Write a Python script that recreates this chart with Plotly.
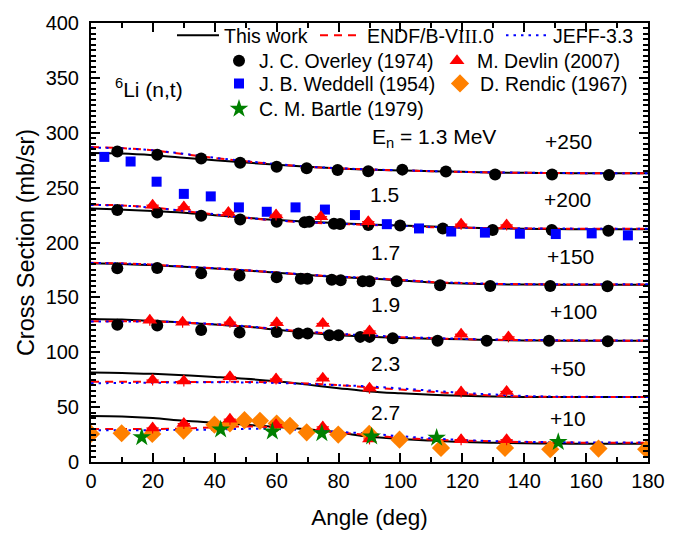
import plotly.graph_objects as go

# ---------------- data (plotted values, offsets already added) ----------------
grid = [0, 10, 20, 30, 40, 50, 60, 70, 80, 90, 100, 110, 120, 130, 140, 150, 160, 170, 180]

energies = ["1.3", "1.5", "1.7", "1.9", "2.3", "2.7"]
offsets = ["+250", "+200", "+150", "+100", "+50", "+10"]

this_13 = [281.5, 281, 279.5, 277.3, 275, 272.8, 270.8, 269, 267.5, 266.3, 265.6, 265, 264.4, 263.8, 263.5, 263.3, 263.1, 263, 263]
this_15 = [231, 230, 228.8, 227.2, 224.8, 222.5, 220.5, 219, 217.6, 216.3, 215.5, 214.5, 213.6, 212.9, 212.5, 212.2, 212.1, 212.1, 212.1]
this_17 = [181, 180.5, 179.3, 177.8, 176.3, 174.5, 172.4, 170.3, 168.6, 167.3, 165.4, 163.6, 162.6, 162, 161.7, 161.6, 161.6, 161.6, 161.6]
this_19 = [130.4, 129.8, 128.5, 127, 125.2, 123.4, 120.5, 117.8, 115.6, 114.2, 113, 112.3, 111.8, 111.2, 110.8, 110.5, 110.4, 110.4, 110.4]
this_23 = [81.5, 81.2, 80.3, 79, 77.5, 75.8, 73.5, 70.5, 67.3, 64.3, 62.6, 61.3, 60.4, 59.7, 59.3, 59.2, 59.2, 59.2, 59.2]
this_27 = [42, 41.5, 40, 37.5, 35.8, 34, 32, 29.8, 26.8, 23, 21, 19.5, 18.3, 17.5, 17, 16.8, 16.7, 16.7, 16.7]

endf_13 = [287, 286, 284, 280.5, 277, 274, 271.3, 269, 267.5, 266.5, 265.7, 265, 264.3, 263.8, 263.5, 263.3, 263.1, 263, 263]
endf_15 = [234.5, 233.8, 231.8, 228.8, 225.5, 222.5, 220, 218.3, 217, 216, 215, 214, 213.5, 213, 212.8, 212.6, 212.5, 212.5, 212.5]
endf_17 = [181.5, 181, 179.8, 178, 176.5, 174.7, 172.6, 170.5, 168.8, 167.5, 165.8, 164, 163, 162.3, 162, 161.8, 161.8, 161.8, 161.8]
endf_19 = [128.3, 128.3, 128, 127, 125.3, 123.5, 121, 118.5, 116.5, 115, 113.7, 112.8, 112, 111.4, 111, 110.8, 110.7, 110.6, 110.6]
endf_23 = [73.2, 73.2, 73, 73, 73, 73, 72.5, 71.5, 70, 68, 66, 64, 62, 60.5, 59.6, 59.3, 59.2, 59.2, 59.2]
endf_27 = [30, 30, 30, 30.5, 31.5, 32.3, 31.5, 29.5, 27, 24.5, 22, 20.5, 19.5, 18.8, 18.2, 17.8, 17.6, 17.6, 17.6]

jeff_13 = [286.5, 285.8, 284, 280.8, 277.2, 274.2, 271.5, 269.2, 267.7, 266.6, 265.8, 265.1, 264.4, 263.9, 263.6, 263.4, 263.2, 263.1, 263.1]
jeff_15 = [234.2, 233.6, 231.7, 228.9, 225.7, 222.7, 220.2, 218.5, 217.2, 216.2, 215.2, 214.2, 213.6, 213.1, 212.9, 212.7, 212.6, 212.6, 212.6]
jeff_17 = [181.3, 180.9, 179.8, 178.1, 176.6, 174.8, 172.8, 170.7, 169, 167.7, 166, 164.2, 163.1, 162.4, 162.1, 161.9, 161.9, 161.9, 161.9]
jeff_19 = [128, 128.1, 128, 127.2, 125.6, 123.8, 121.3, 118.8, 116.8, 115.3, 114, 113, 112.2, 111.6, 111.2, 111, 110.8, 110.7, 110.7]
jeff_23 = [71.7, 72, 72.2, 72.5, 72.6, 72.5, 72, 71, 70, 68.8, 67, 65, 63, 61.5, 60.2, 59.6, 59.4, 59.3, 59.3]
jeff_27 = [29, 29, 29, 29.2, 29.5, 30.2, 30, 29, 27.5, 25.8, 23.5, 21.5, 20, 19, 18.4, 18, 17.8, 17.7, 17.7]

this_work = [this_13, this_15, this_17, this_19, this_23, this_27]
endf = [endf_13, endf_15, endf_17, endf_19, endf_23, endf_27]
jeff = [jeff_13, jeff_15, jeff_17, jeff_19, jeff_23, jeff_27]

# J. C. Overley (1974)
ov13_x = [8.5, 21.4, 35.6, 48.2, 60, 69.7, 79.7, 89.6, 100.6, 114.7, 130.6, 149, 167.4]
ov13_y = [283, 280, 276.5, 272.6, 269, 267.6, 266, 265, 266.4, 264.6, 262, 262, 261.6]
ov15_x = [8.5, 21.4, 35.6, 48.2, 60, 69, 70.5, 78.5, 80.5, 89.6, 99.9, 113.7, 129.8, 148.9, 167.2]
ov15_y = [229.5, 227.4, 224.4, 221, 219, 218.5, 218.8, 217, 216.8, 216, 215.5, 212.8, 211.3, 211.3, 210.7]
ov17_x = [8.5, 21.4, 35.6, 48, 60, 67.8, 69.9, 77.8, 80.7, 87.8, 90, 98.8, 112.8, 129, 148.4, 166.9]
ov17_y = [176.5, 176.8, 172, 170, 168.4, 167, 167, 166, 165.5, 164.6, 164.6, 164.6, 161, 160.4, 160.4, 160.1]
ov19_x = [8.5, 21.4, 35.6, 48, 60, 67, 70, 77, 80, 87, 90, 97.5, 112, 127.9, 148, 167]
ov19_y = [125, 124.4, 120.2, 117.9, 118.5, 117, 117, 115.5, 115.5, 114, 114, 112.8, 110.4, 110.4, 110.4, 110]

# M. Devlin (2007)
dv15_x = [19.9, 30, 44.4, 59.8, 74.3, 89.6, 119.6, 134.3]
dv15_y = [234, 232.4, 227.4, 225, 223.5, 219, 216.7, 216]
dv19_x = [19, 29.6, 44.9, 60, 74.9, 90, 119.6, 134.9]
dv19_y = [129.2, 127.4, 127.4, 126.8, 126.2, 119.4, 116.4, 114]
dv23_x = [19.9, 30, 44.9, 59.8, 74.9, 90, 119.6, 134.3]
dv23_y = [74.7, 73.8, 77.7, 75.6, 76.2, 67.2, 63.7, 64.3]
dv27_x = [19.9, 30, 44.9, 59.8, 74.9, 90, 119.6, 134.3]
dv27_y = [31, 35, 39, 34, 32, 21, 20.3, 20.3]

# J. B. Weddell (1954)
wd_x = [4.3, 12.8, 21.2, 30, 38.7, 47.8, 56.8, 66.1, 75.6, 85.3, 95.6, 106, 116.4, 127.3, 138.6, 150.2, 161.8, 173.5]
wd_y = [278, 273.8, 255.4, 244.3, 242, 232, 228, 232, 230, 225, 216.7, 212.8, 210, 209, 208, 207.7, 208.3, 206.5]

# D. Rendic (1967)
rd_x = [0, 9.9, 19.8, 29.9, 39.9, 44.9, 49.6, 54.6, 60, 64.3, 69.7, 79.9, 89.9, 99.7, 113.1, 133.8, 148.4, 164, 179.4]
rd_y = [25.6, 26.2, 25.6, 28.6, 34, 35.1, 38.1, 37.5, 35.1, 33, 27, 25, 25.6, 20.3, 12.8, 12.8, 11.6, 12.2, 11.6]

# C. M. Bartle (1979)
bt_x = [16.4, 41.9, 58.6, 74.6, 90.7, 111.7, 151]
bt_y = [22.6, 29.5, 27.7, 26.2, 23.2, 22, 18.1]

dv_err_y = 5
dv_err_x = 2

# label positions (angle, value)
energy_label_x = [111, 95, 95.3, 95.3, 95.3, 95.3]
energy_label_y = [289, 237, 184.8, 137, 83.6, 39]
offset_label_x = [154.4, 153.9, 155, 155.8, 154.3, 154.3]
offset_label_y = [286, 232.4, 181, 131, 79.2, 33]

FONT = "Liberation Sans, Arial, sans-serif"
LEG_FONT = dict(size=19.5, family=FONT, color="black")

fig = go.Figure()

# ---------------- curves ----------------
for i in range(len(energies)):
    fig.add_trace(go.Scatter(x=grid, y=this_work[i], mode="lines", line=dict(color="black", width=2, shape="spline"),
                             name="This work", showlegend=(i == 0), legend="legend", legendwidth=86))
for i in range(len(energies)):
    fig.add_trace(go.Scatter(x=grid, y=endf[i], mode="lines", line=dict(color="#FF0000", width=2, dash="8px,6px", shape="spline"),
                             name="ENDF/B-V<span style='font-family:Liberation Serif, serif'>III</span>.0",
                             showlegend=(i == 0), legend="legend", legendwidth=129))
for i in range(len(energies)):
    fig.add_trace(go.Scatter(x=grid, y=jeff[i], mode="lines", line=dict(color="#0000FF", width=2, dash="2.5px,5px", shape="spline"),
                             name="JEFF-3.3", showlegend=(i == 0), legend="legend"))

# ---------------- experimental points ----------------
for k, (xs, ys) in enumerate([(ov13_x, ov13_y), (ov15_x, ov15_y), (ov17_x, ov17_y), (ov19_x, ov19_y)]):
    fig.add_trace(go.Scatter(x=xs, y=ys, mode="markers", marker=dict(symbol="circle", size=12, color="black"),
                             name="J. C. Overley (1974)", showlegend=(k == 0), legend="legend2", legendwidth=173))

fig.add_trace(go.Scatter(x=wd_x, y=wd_y, mode="markers", marker=dict(symbol="square", size=10, color="#0000FF"),
                         name="J. B. Weddell (1954)", legend="legend3", legendwidth=176))

fig.add_trace(go.Scatter(x=rd_x, y=rd_y, mode="markers", marker=dict(symbol="diamond", size=14, color="#FF8000"),
                         name="D. Rendic (1967)", legend="legend3"))

for k, (xs, ys) in enumerate([(dv15_x, dv15_y), (dv19_x, dv19_y), (dv23_x, dv23_y), (dv27_x, dv27_y)]):
    fig.add_trace(go.Scatter(x=xs, y=ys, mode="markers", marker=dict(symbol="triangle-up", size=13, color="#FF0000"),
                             error_y=dict(type="constant", value=dv_err_y, color="#FF0000", thickness=1.2, width=0),
                             error_x=dict(type="constant", value=dv_err_x, color="#FF0000", thickness=1.2, width=0),
                             name="M. Devlin (2007)", showlegend=(k == 0), legend="legend2"))

fig.add_trace(go.Scatter(x=bt_x, y=bt_y, mode="markers", marker=dict(symbol="star", size=14, color="#008000"),
                         name="C. M. Bartle (1979)", legend="legend4"))

# ---------------- annotations ----------------
ann = []
for i in range(len(energies)):
    txt = "E<sub>n</sub> = %s MeV" % energies[i] if i == 0 else energies[i]
    ann.append(dict(x=energy_label_x[i], y=energy_label_y[i], text=txt, showarrow=False, yshift=7,
                    font=dict(size=21, color="black", family=FONT), xanchor="center", yanchor="middle"))
    ann.append(dict(x=offset_label_x[i], y=offset_label_y[i], text=offsets[i], showarrow=False, yshift=7,
                    font=dict(size=21, color="black", family=FONT), xanchor="center", yanchor="middle"))
ann.append(dict(x=7.1, y=334, text="<sup>6</sup>Li (n,t)", showarrow=False, xanchor="left", yanchor="middle", yshift=7,
                font=dict(size=21, color="black", family=FONT)))

axis_common = dict(showline=True, linecolor="black", linewidth=2, mirror="allticks", ticks="inside",
                   ticklen=9, tickwidth=1.5, tickcolor="black", showgrid=False, zeroline=False,
                   tickfont=dict(size=20, color="black", family=FONT))

legend_common = dict(orientation="h", xanchor="left", yanchor="top", bgcolor="rgba(0,0,0,0)",
                     font=LEG_FONT, traceorder="normal")

fig.update_layout(
    width=691, height=540,
    margin=dict(l=91, r=43, t=14, b=78),
    paper_bgcolor="white", plot_bgcolor="white",
    font=dict(family=FONT, color="black"),
    xaxis=dict(range=[0, 180], dtick=20, tick0=0,
               title=dict(text="Angle (deg)", standoff=18, font=dict(size=22.5, color="black", family=FONT)),
               minor=dict(dtick=10, ticks="inside", ticklen=5, tickwidth=1.5, tickcolor="black"),
               **axis_common),
    yaxis=dict(range=[0, 400], dtick=50, tick0=0,
               title=dict(text="Cross Section (mb/sr)", standoff=4, font=dict(size=23.5, color="black", family=FONT)),
               minor=dict(dtick=5, ticks="inside", ticklen=5, tickwidth=1.5, tickcolor="black"),
               ticklabelstandoff=6, **axis_common),
    annotations=ann,
    legend=dict(x=0.1454, y=1.0155, itemwidth=42, **legend_common),
    legend2=dict(x=0.2298, y=0.9576, **legend_common),
    legend3=dict(x=0.2298, y=0.906, **legend_common),
    legend4=dict(x=0.2298, y=0.8483, **legend_common),
)

fig.write_html("out.html")
